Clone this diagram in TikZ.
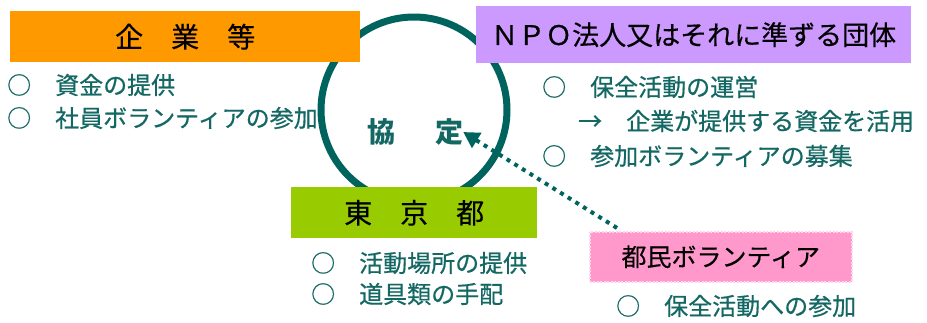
\documentclass[tikz,border=0pt]{standalone}
\usepackage{fontspec}
\setmainfont{Noto Sans CJK JP}
\newfontfamily\itemfont[FakeBold=0.6]{Noto Sans CJK JP}
\newfontfamily\headfont[FakeBold=0.4]{Noto Sans CJK JP}
\usetikzlibrary{arrows.meta}
\definecolor{teal1}{RGB}{0,100,94}
\definecolor{txt}{RGB}{20,104,100}
\definecolor{orng}{HTML}{FF9900}
\definecolor{purp}{HTML}{CC99FF}
\definecolor{grn}{HTML}{99CC00}
\definecolor{pnk}{HTML}{FF99CC}
\tikzset{
  head/.style={inner sep=0pt, text=black},
  item/.style={anchor=west, inner sep=0pt, text=txt, font=\itemfont\fontsize{24}{28}\selectfont},
  box/.style={inner sep=0pt, anchor=north west},
  kyo/.style={inner sep=0pt, text=txt, font=\fontsize{28}{32}\selectfont\bfseries},
}
\begin{document}
\begin{tikzpicture}[x=1pt,y=-1pt]
\useasboundingbox (0,0) rectangle (927,322);
% circle
\node[circle, draw=teal1, line width=7pt, minimum size=186pt, inner sep=0pt] (ring) at (414,110) {};
\node[kyo] (kyo) at (381,132) {協};
\node[kyo] (tei) at (449,132) {定};
% boxes
\node[box, fill=orng, minimum width=350pt, minimum height=51pt] (kigyo) at (10,11) {};
\node[head, font=\headfont\fontsize{28}{32}\selectfont] (kigyoT) at (kigyo.center) {企　業　等};
\node[box, fill=purp, minimum width=435pt, minimum height=57pt] (npo) at (476,6) {};
\node[head, font=\headfont\fontsize{27}{32}\selectfont] (npoT) at (npo.center) {ＮＰＯ法人又はそれに準ずる団体};
\node[box, fill=grn, minimum width=246pt, minimum height=51pt] (tokyo) at (291,187) {};
\node[head, font=\headfont\fontsize{28}{32}\selectfont] (tokyoT) at (tokyo.center) {東　京　都};
\node[box, fill=pnk, draw=white!60!pnk, dash pattern=on 2pt off 1.5pt, line width=1.5pt, minimum width=262pt, minimum height=50pt] (tomin) at (589,231) {};
\node[head, font=\headfont\fontsize{25}{30}\selectfont] (tominT) at (tomin.center) {都民ボランティア};
% items
\node[item] (k1) at (7,85) {○　資金の提供};
\node[item] (k2) at (7,118) {○　社員ボランティアの参加};
\node[item] (n1) at (542,87) {○　保全活動の運営};
\node[item] (n2) at (578,121) {→　企業が提供する資金を活用};
\node[item] (n3) at (542,156) {○　参加ボランティアの募集};
\node[item] (t1) at (311,263) {○　活動場所の提供};
\node[item] (t2) at (311,294) {○　道具類の手配};
\node[item] (m1) at (616,306) {○　保全活動への参加};
% arrow
\coordinate (src) at (617,228);
\draw[teal1, line width=4pt, dash pattern=on 4pt off 5pt, -{Triangle[length=16pt,width=17pt]}] (src) -- (tei.east);
\end{tikzpicture}
\end{document}
